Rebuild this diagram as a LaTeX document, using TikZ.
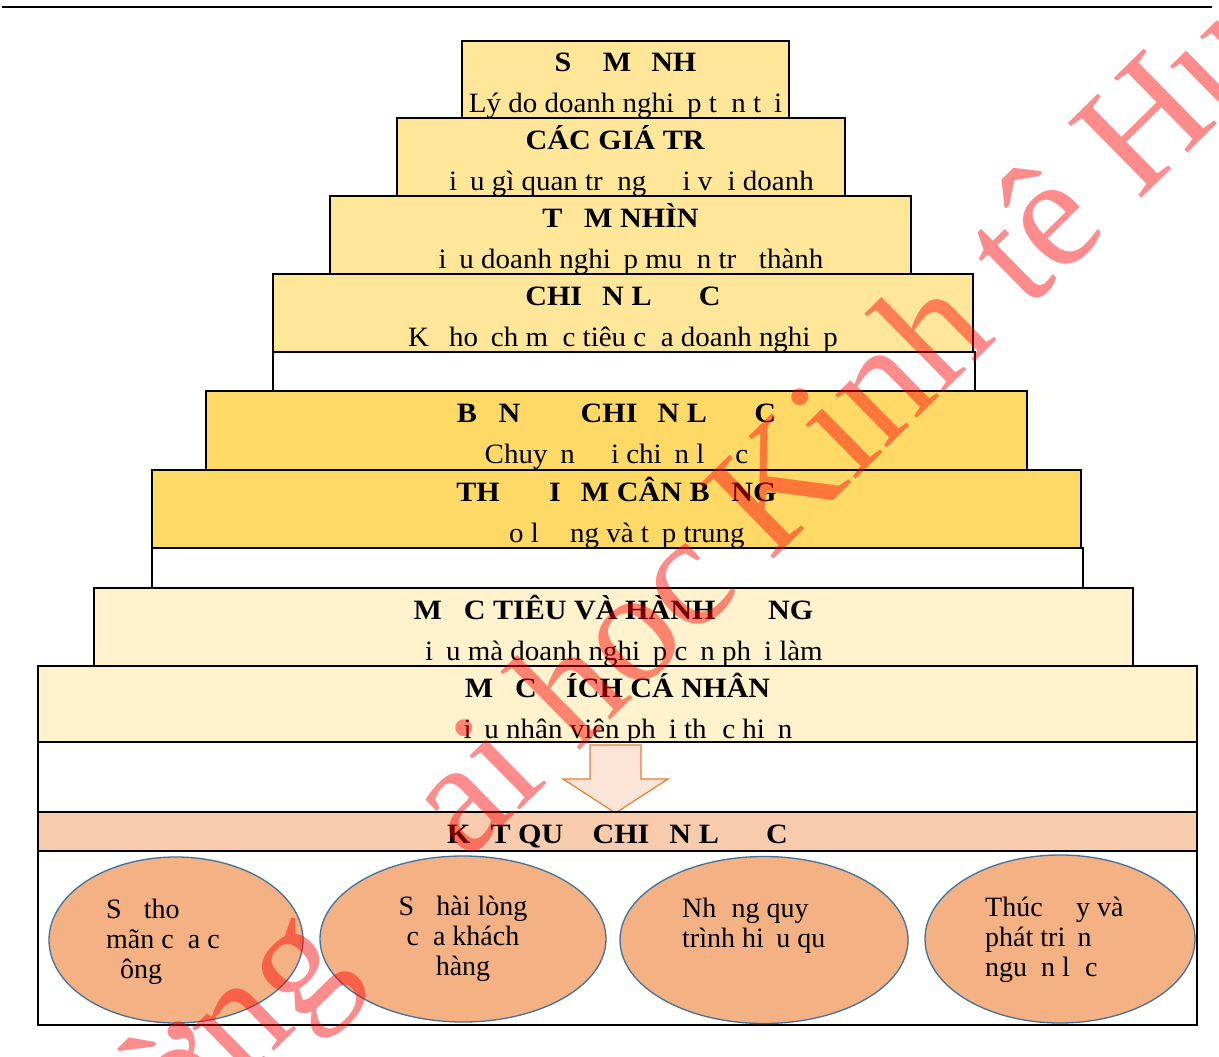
\documentclass[tikz,border=0pt]{standalone}
\usepackage{fontspec}
\setmainfont{Liberation Serif}
\newfontfamily\tierheadfont{Liberation Serif}[FakeStretch=1.075]
\newfontfamily\tierbodyfont{Liberation Serif}[FakeStretch=1.035]
\usetikzlibrary{shapes.geometric}
\definecolor{goldlight}{HTML}{FFE699}
\definecolor{golddark}{HTML}{FFD966}
\definecolor{goldpale}{HTML}{FFF2CC}
\definecolor{peachband}{HTML}{F8CBAD}
\definecolor{peachoval}{HTML}{F4B183}
\definecolor{ovalline}{HTML}{41719C}
\definecolor{arrowfill}{HTML}{FBE5D6}
\definecolor{arrowline}{HTML}{ED7D31}
\newcommand{\gone}[1]{\phantom{#1}}

\begin{document}
\begin{tikzpicture}[x=1pt,y=-1pt,
    tier/.style={draw,line width=2pt,inner sep=0pt,outer sep=0pt,anchor=north west},
    head/.style={anchor=base,inner sep=0pt,font=\fontsize{28}{30}\selectfont\tierheadfont\bfseries},
    body/.style={anchor=base,inner sep=0pt,font=\fontsize{28}{30}\selectfont\tierbodyfont},
    oval/.style={ellipse,draw=ovalline,line width=1.3pt,fill=peachoval,inner sep=0pt},
    ovaltext/.style={inner sep=0pt,font=\fontsize{28}{30}\selectfont},
    stamp/.style={anchor=base,inner sep=0pt,text=red,opacity=.45,rotate=44.5,font=\fontsize{160}{160}\selectfont}]
  \useasboundingbox (0,0) rectangle (1219,1057);
  \draw[line width=1.2pt] (2,7)--(1212,7);

  % upper tiers
  \node[tier,fill=goldlight,minimum width=327pt,minimum height=77pt] (mission) at (462,41) {};
  \node[head] (mission-t) at ([yshift=-31pt]mission.north) {S\gone{Ứ} M\gone{Ệ}NH};
  \node[body] (mission-b) at ([yshift=-72pt]mission.north) {Lý do doanh nghi\gone{ệ}p t\gone{ồ}n t\gone{ạ}i};

  \node[tier,fill=goldlight,minimum width=448pt,minimum height=78pt] (values) at (397,118) {};
  \node[head] (values-t) at ([yshift=-31pt]values.north) {CÁC GIÁ TR\gone{Ị}};
  \node[body] (values-b) at ([yshift=-72pt]values.north) {\gone{Đ}i\gone{ề}u gì quan tr\gone{ọ}ng \gone{đố}i v\gone{ớ}i doanh};

  \node[tier,fill=goldlight,minimum width=581pt,minimum height=78pt] (vision) at (330,196) {};
  \node[head] (vision-t) at ([yshift=-31pt]vision.north) {T\gone{Ầ}M NHÌN};
  \node[body] (vision-b) at ([yshift=-72pt]vision.north) {\gone{Đ}i\gone{ề}u doanh nghi\gone{ệ}p mu\gone{ố}n tr\gone{ở} thành};

  \node[tier,fill=goldlight,minimum width=700pt,minimum height=78pt] (strategy) at (273,274) {};
  \node[head] (strategy-t) at ([yshift=-31pt]strategy.north) {CHI\gone{Ế}N L\gone{ƯỢ}C};
  \node[body] (strategy-b) at ([yshift=-72pt]strategy.north) {K\gone{ế} ho\gone{ạ}ch m\gone{ụ}c tiêu c\gone{ủ}a doanh nghi\gone{ệ}p};
  \node[tier,fill=white,minimum width=702pt,minimum height=39pt] (gapA) at (273,352) {};

  % middle tiers
  \node[tier,fill=golddark,minimum width=821pt,minimum height=79pt] (map) at (206,391) {};
  \node[head] (map-t) at ([yshift=-31pt]map.north) {B\gone{Ả}N \gone{ĐỒ} CHI\gone{Ế}N L\gone{ƯỢ}C};
  \node[body] (map-b) at ([yshift=-72pt]map.north) {Chuy\gone{ể}n \gone{đổ}i chi\gone{ế}n l\gone{ượ}c};

  \node[tier,fill=golddark,minimum width=929pt,minimum height=78pt] (scorecard) at (152,470) {};
  \node[head] (scorecard-t) at ([yshift=-31pt]scorecard.north) {TH\gone{Ẻ} \gone{Đ}I\gone{Ể}M CÂN B\gone{Ằ}NG};
  \node[body] (scorecard-b) at ([yshift=-72pt]scorecard.north) {\gone{Đ}o l\gone{ườ}ng và t\gone{ậ}p trung};
  \node[tier,fill=white,minimum width=931pt,minimum height=40pt] (gapB) at (152,548) {};

  % lower tiers
  \node[tier,fill=goldpale,minimum width=1039pt,minimum height=78pt] (goals) at (94,588) {};
  \node[head] (goals-t) at ([yshift=-31pt]goals.north) {M\gone{Ụ}C TIÊU VÀ HÀNH \gone{ĐỘ}NG};
  \node[body] (goals-b) at ([yshift=-72pt]goals.north) {\gone{Đ}i\gone{ề}u mà doanh nghi\gone{ệ}p c\gone{ầ}n ph\gone{ả}i làm};

  \node[tier,fill=goldpale,minimum width=1159pt,minimum height=76pt] (personal) at (38,666) {};
  \node[head] (personal-t) at ([yshift=-31pt]personal.north) {M\gone{Ụ}C \gone{Đ}ÍCH CÁ NHÂN};
  \node[body] (personal-b) at ([yshift=-72pt]personal.north) {\gone{Đ}i\gone{ề}u nhân viên ph\gone{ả}i th\gone{ự}c hi\gone{ệ}n};
  \node[tier,fill=white,minimum width=1159pt,minimum height=70pt] (gapC) at (38,742) {};
  \draw[line width=1.2pt,draw=arrowline,fill=arrowfill,line join=miter]
    (590,745)--(641,745)--(641,779)--(668,779)--(615.5,813)--(563,779)--(590,779)--cycle;

  % results
  \node[tier,fill=peachband,minimum width=1159pt,minimum height=39pt] (result) at (38,812) {};
  \node[head] (result-t) at ([yshift=-31pt]result.north) {K\gone{Ế}T QU\gone{Ả} CHI\gone{Ế}N L\gone{ƯỢ}C};
  \node[tier,fill=white,minimum width=1159pt,minimum height=174pt] (outcomes) at (38,851) {};

  \node[oval,minimum width=254pt,minimum height=166pt] (shareholders) at (176,940) {};
  \node[oval,minimum width=286pt,minimum height=166pt] (customers) at (463,939) {};
  \node[oval,minimum width=288pt,minimum height=167pt] (processes) at (764,940) {};
  \node[oval,minimum width=270pt,minimum height=168pt] (people) at (1060,939) {};
  \node[ovaltext,anchor=north west,align=left] (shareholders-t) at (106,899) {S\gone{ự} tho\gone{ả}\\ mãn c\gone{ủ}a c\gone{ổ}\\ \gone{đ}ông};
  \node[ovaltext,anchor=north,align=center] (customers-t) at (463,896) {S\gone{ự} hài lòng\\ c\gone{ủ}a khách\\ hàng};
  \node[ovaltext,anchor=north west,align=left] (processes-t) at (682,898) {Nh\gone{ữ}ng quy\\ trình hi\gone{ệ}u qu\gone{ả}};
  \node[ovaltext,anchor=north west,align=left] (people-t) at (985,896) {Thúc \gone{đẩ}y và\\ phát tri\gone{ể}n\\ ngu\gone{ồ}n l\gone{ự}c};

  % watermark
  \node[stamp] (watermark) at (672,660) {Trường \gone{Đ}ai hoc Kinh tê Huế};
\end{tikzpicture}
\end{document}
